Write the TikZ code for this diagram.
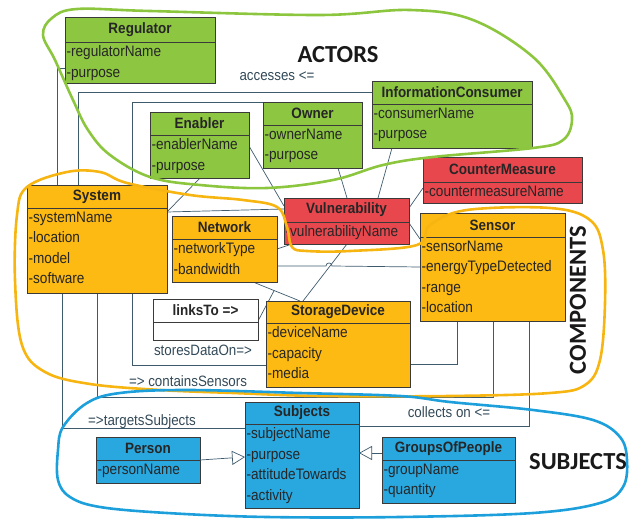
\documentclass[tikz,border=0pt]{standalone}
\usepackage{fontspec}
\setmainfont{Liberation Sans}
\newfontfamily\headfont{Carlito}
\usetikzlibrary{arrows.meta,calc,backgrounds,positioning}

\definecolor{actorgreen}{HTML}{8DC641}
\definecolor{compyellow}{HTML}{FDBA13}
\definecolor{vulnred}{HTML}{E9474E}
\definecolor{subjblue}{HTML}{29A8E0}
\definecolor{linkgray}{HTML}{3E5B6E}
\definecolor{boxedge}{HTML}{3A3A3A}
\definecolor{greenpen}{HTML}{8CC63F}
\definecolor{orangepen}{HTML}{F7B512}
\definecolor{bluepen}{HTML}{1C9FDB}

% one UML class: name, fill, x1, y1, x2, y2, separator y, title, attributes
\newcommand{\umlclass}[9]{%
  \node[classbox, fill=#2, minimum width={(#5-#3)*1pt}, minimum height={(#6-#4)*1pt}] (#1) at (#3,#4) {};
  \draw[boxline] (#1.west |- 0,#7) -- (#1.east |- 0,#7);
  \node[classtitle] (#1-title) at ($(#1.north)!0.5!(#1.north |- 0,#7)$) {#8};
  \node[classattr] (#1-attr) at (#1.west |- 0,#7) {#9};
}

\begin{document}
\begin{tikzpicture}[x=1pt, y=-1pt,
    classbox/.style={draw=boxedge, line width=0.8pt, anchor=north west, inner sep=0pt, outer sep=0pt},
    boxline/.style={draw=boxedge, line width=0.8pt},
    classtitle/.style={font=\bfseries\fontsize{15}{17}\selectfont, xscale=0.9, text=black!85, inner sep=0pt},
    classattr/.style={font=\fontsize{15.2}{20.5}\selectfont, xscale=0.895, text=black!85, align=left, anchor=north west, inner xsep=1.6pt, inner ysep=3.5pt},
    link/.style={draw=linkgray, line width=0.7pt},
    gen/.style={draw=linkgray, line width=0.7pt, -{Triangle[open, length=13pt, width=14pt]}},
    rolelabel/.style={font=\fontsize{15}{17}\selectfont, xscale=0.89, text=linkgray!80!black, inner sep=0pt},
    grouplabel/.style={font=\headfont\bfseries\fontsize{24.5}{28}\selectfont, text=black!90, inner sep=0pt},
    pen/.style={line width=2.6pt, line cap=round, line join=round}]
\useasboundingbox (0,0) rectangle (629,521);

% actors
\umlclass{reg}{actorgreen}{65}{17}{215}{83}{42}{Regulator}{-regulatorName\\-purpose}
\umlclass{info}{actorgreen}{372}{81}{532}{148}{104}{InformationConsumer}{-consumerName\\-purpose}
\umlclass{owner}{actorgreen}{263}{102}{362}{168}{125}{Owner}{-ownerName\\-purpose}
\umlclass{enab}{actorgreen}{150}{112}{249}{178}{135}{Enabler}{-enablerName\\-purpose}
\umlclass{cm}{vulnred}{423}{157}{582}{203}{182}{CounterMeasure}{-countermeasureName}
\umlclass{vul}{vulnred}{284}{198}{409}{244}{222}{Vulnerability}{-vulnerabilityName}

% components
\umlclass{sys}{compyellow}{27}{185}{167}{293}{208}{System}{-systemName\\-location\\-model\\-software}
\umlclass{net}{compyellow}{172}{216}{277}{282}{239}{Network}{-networkType\\-bandwidth}
\umlclass{links}{white}{153}{299}{258}{340}{322}{linksTo =>}{}
\umlclass{stor}{compyellow}{266}{301}{410}{387}{323}{StorageDevice}{-deviceName\\-capacity\\-media}
\umlclass{sens}{compyellow}{420}{213}{565}{321}{237}{Sensor}{-sensorName\\-energyTypeDetected\\-range\\-location}

% subjects
\umlclass{subj}{subjblue}{245}{402}{359}{508}{424}{Subjects}{-subjectName\\-purpose\\-attitudeTowards\\-activity}
\umlclass{pers}{subjblue}{96}{437}{200}{483}{460}{Person}{-personName}
\umlclass{grp}{subjblue}{382}{437}{515}{503}{460}{GroupsOfPeople}{-groupName\\-quantity}

\begin{scope}[on background layer]
  \draw[link] (reg.west |- 0,68) -| (57,0 |- sys.north);
  \draw[link] (info.west |- 0,92) -| (78,0 |- sys.north);
  \draw[link] (owner.north west) -| (132,0 |- sys.north);
  \draw[link] (sys.south -| 132,0) |- (stor.west |- 0,365);
  \draw[link] (sys.south -| 97,0) -- ++(0,104) -| (sens.south -| 493,0);
  \draw[link] (sys.south -| 62,0) |- (subj.west |- 0,428);
  \draw[link] (sens.south -| 457,0) |- (stor.east |- 0,364);
  \draw[link] (sens.south -| 529,0) |- (subj.east |- 0,426);
  \draw[link] (enab.south -| 200,0) -- (sys.east |- 0,212);
  \draw[link] (sys.east |- 0,212) -- (vul.west |- 0,209);
  \draw[link] (enab.east |- 0,146) -- (vul.west |- 0,206);
  \draw[link] (owner.south -| 338,0) -- (vul.north -| 347,0);
  \draw[link] (info.south -| 392,0) -- (vul.north -| 378,0);
  \draw[link] (cm.west |- 0,188) -- (vul.east |- 0,208);
  \draw[link] (vul.east |- 0,223) -- (sens.west |- 0,239);
  \draw[link] (vul.south -| 347,0) -- (stor.north -| 303,0);
  \draw[link] (net.east |- 0,249) -- (vul.south -| 292,0);
  \draw[link] (net.east |- 0,266) -- (326,266) .. controls (326,262) and (332,262) .. (332,266) -- (sens.west |- 0,267);
  \draw[link] (net.south -| 253,0) -- coordinate[pos=0.45] (netstor) (stor.north -| 300,0);
  \draw[link] (links.east |- 0,321) -- (netstor);
\end{scope}

\draw[gen] (pers.east |- 0,460) -- (subj.west |- 0,457);
\draw[gen] (grp.west |- 0,453) -- (subj.east |- 0,453);

\node[rolelabel] (accesses) at (277,76) {accesses <=};
\node[rolelabel] (stores) at (203,350) {storesDataOn=>};
\node[rolelabel] (contains) at (188,381) {=> containsSensors};
\node[rolelabel] (targets) at (142,422) {=>targetsSubjects};
\node[rolelabel] (collects) at (449,412) {collects on <=};

\node[grouplabel] (actors) at (338,55) {ACTORS};
\node[grouplabel, rotate=90] (components) at (578,300) {COMPONENTS};
\node[grouplabel] (subjects) at (578,462) {SUBJECTS};

% hand drawn groupings
\draw[pen, greenpen] plot[smooth cycle, tension=0.6] coordinates {
  (77,9) (150,11) (320,15) (410,10) (473,20) (533,57) (565,100) (572,120)
  (563,140) (533,148) (433,157) (383,165) (333,180) (267,188) (200,185)
  (150,177) (110,155) (88,130) (73,100) (55,60) (43,35) (52,18)};
\draw[pen, orangepen] plot[smooth cycle, tension=0.6] coordinates {
  (27,187) (67,172) (100,172) (127,183) (190,195) (243,200) (277,207)
  (287,227) (292,247) (307,251) (350,251) (417,245) (430,225) (467,210)
  (550,208) (590,220) (603,250) (605,303) (600,360) (585,385) (550,393)
  (450,396) (320,396) (233,393) (160,390) (90,384) (45,372) (22,345)
  (15,280) (17,215)};
\draw[pen, bluepen] plot[smooth cycle, tension=0.6] coordinates {
  (63,427) (87,403) (120,393) (187,390) (300,393) (400,396) (450,402)
  (533,410) (593,420) (620,437) (627,460) (623,487) (600,503) (533,513)
  (400,517) (267,517) (167,513) (100,507) (70,497) (58,480) (58,450)};
\end{tikzpicture}
\end{document}
